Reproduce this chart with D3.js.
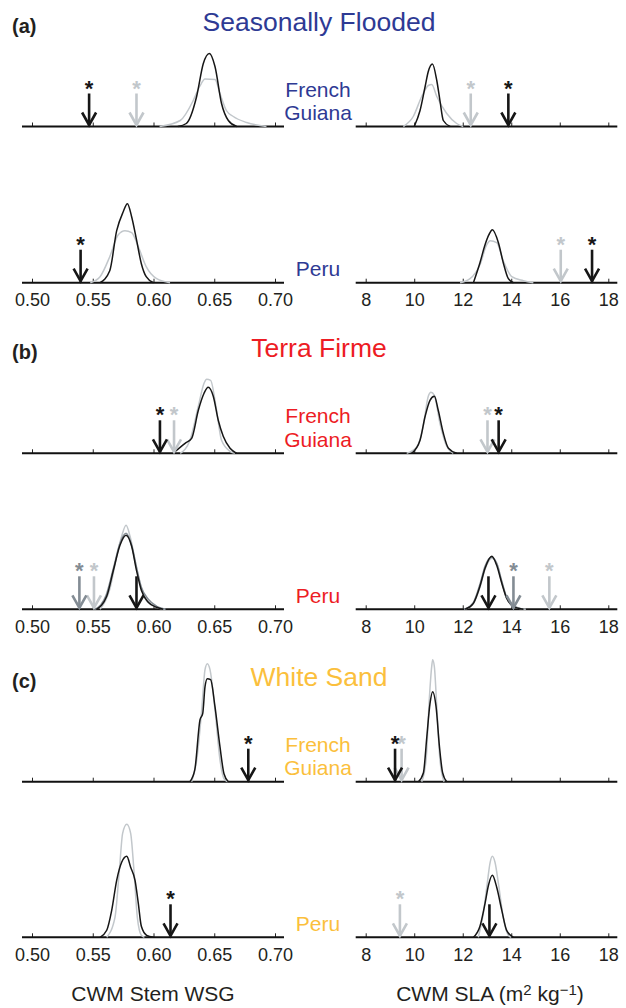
<!DOCTYPE html>
<html>
<head>
<meta charset="utf-8">
<script src="https://cdn.jsdelivr.net/npm/d3@7"></script>
<style>
  body { margin: 0; background: #fff; }
</style>
</head>
<body>
<div id="wrapper"></div>
<script>
// ---- data ----
const habitatNames = ["Seasonally Flooded", "Terra Firme", "White Sand"]
const habitatLetters = ["(a)", "(b)", "(c)"]
const siteNames = [["French", "Guiana"], ["Peru"]]
const wsgTicks = [0.50, 0.55, 0.60, 0.65, 0.70]
const slaTicks = [8, 10, 12, 14, 16, 18]

// density curves: [trait value, relative density]; k = black, g = light grey, d = dark grey
// (a) Seasonally Flooded
const sfFgWsgK = [[0.620,0],[0.627,3],[0.6355,30],[0.641,63],[0.646,73],[0.6506,60],[0.656,23],[0.6616,6],[0.6685,0]]
const sfFgWsgG = [[0.605,0],[0.622,6],[0.6327,26],[0.638,40],[0.6424,47.5],[0.6506,47],[0.6547,33],[0.660,16],[0.6657,10],[0.6767,4],[0.693,0]]
const sfFgSlaK = [[10.0,0],[10.24,16],[10.45,40],[10.58,55],[10.75,62.5],[10.93,46],[11.06,26],[11.2,6],[11.48,0]]
const sfFgSlaG = [[9.55,0],[9.96,10],[10.31,30],[10.58,41],[10.72,42],[10.93,30],[11.34,13],[11.75,3],[12.02,0]]
const sfPeWsgK = [[0.556,0],[0.564,12],[0.5697,52],[0.5751,71],[0.5785,79],[0.582,66],[0.586,43],[0.590,19],[0.594,6],[0.600,0]]
const sfPeWsgG = [[0.548,0],[0.556,6],[0.564,26],[0.571,48],[0.5765,52],[0.582,50],[0.5875,36],[0.594,16],[0.6026,4],[0.6136,0]]
const sfPeSlaK = [[12.44,0],[12.71,20],[12.92,38],[13.08,48],[13.22,53],[13.47,40],[13.67,20],[13.88,4],[14.09,0]]
const sfPeSlaG = [[11.89,0],[12.30,4],[12.71,18],[12.99,38],[13.13,42],[13.40,40],[13.67,22],[14.02,6],[14.5,2],[14.91,0]]
// (b) Terra Firme
const tfFgWsgK = [[0.616,0],[0.626,10],[0.6314,15],[0.6369,43],[0.6416,60],[0.645,66],[0.6492,57],[0.6533,33],[0.6574,17],[0.663,5],[0.6685,0]]
const tfFgWsgG = [[0.622,0],[0.630,13],[0.6369,47],[0.6416,70],[0.6438,74],[0.647,73],[0.6514,47],[0.656,13],[0.663,2],[0.667,0]]
const tfFgSlaK = [[9.90,0],[10.24,13],[10.45,37],[10.65,53],[10.83,57],[10.99,43],[11.2,20],[11.41,5],[11.75,0]]
const tfFgSlaG = [[9.69,0],[10.10,6],[10.37,27],[10.58,57],[10.69,61],[10.83,58],[11.06,30],[11.34,7],[11.61,0]]
const tfPeWsgK = [[0.553,0],[0.5615,13],[0.567,39],[0.5724,64],[0.5774,74],[0.582,63],[0.586,39],[0.590,19],[0.5957,7],[0.6026,2],[0.608,0]]
const tfPeWsgD = [[0.552,0],[0.561,14],[0.567,41],[0.5724,66],[0.5774,76],[0.582,64],[0.586,42],[0.590,22],[0.5957,10],[0.6026,3],[0.61,0]]
const tfPeWsgG = [[0.556,0],[0.564,20],[0.5697,53],[0.5738,73],[0.5774,84],[0.5807,73],[0.5848,49],[0.5889,26],[0.594,9],[0.6026,2],[0.6095,0]]
const tfPeSlaK = [[12.10,0],[12.44,6],[12.71,23],[12.92,41],[13.20,53],[13.40,44],[13.61,26],[13.81,11],[14.09,3],[14.5,0]]
const tfPeSlaD = [[12.05,0],[12.44,7],[12.71,25],[12.92,43],[13.18,52],[13.40,46],[13.61,28],[13.81,12],[14.09,4],[14.5,0]]
const tfPeSlaG = [[12.1,0],[12.44,6],[12.71,22],[12.92,40],[13.20,51],[13.42,45],[13.61,27],[13.81,11],[14.09,3],[14.6,0]]
// (c) White Sand
const wsFgWsgK = [[0.630,0],[0.634,12],[0.6383,62],[0.6405,68],[0.6424,95],[0.6443,103],[0.647,102],[0.6506,75],[0.6547,35],[0.658,8],[0.6616,0]]
const wsFgWsgG = [[0.6314,0],[0.6356,22],[0.6397,72],[0.6424,112],[0.6443,118],[0.6465,112],[0.6506,72],[0.6547,22],[0.658,3],[0.661,0]]
const wsFgSlaK = [[10.17,0],[10.38,9],[10.52,45],[10.65,78],[10.76,90],[10.90,75],[11.04,35],[11.17,9],[11.34,0]]
const wsFgSlaG = [[10.31,0],[10.49,22],[10.62,82],[10.72,115],[10.76,122],[10.83,115],[10.93,75],[11.06,22],[11.23,0]]
const wsPeWsgK = [[0.556,0],[0.5615,7],[0.5656,27],[0.5697,57],[0.5738,75],[0.578,81],[0.5812,70],[0.5848,57],[0.5875,34],[0.590,11],[0.5944,2],[0.600,0]]
const wsPeWsgG = [[0.5615,0],[0.5683,20],[0.5719,67],[0.5746,104],[0.578,113],[0.5812,104],[0.5839,67],[0.5867,20],[0.590,2],[0.5925,0]]
const wsPeSlaK = [[12.44,0],[12.71,11],[12.92,34],[13.06,52],[13.22,62],[13.40,50],[13.61,27],[13.81,7],[14.09,0]]
const wsPeSlaG = [[12.64,0],[12.85,24],[13.01,54],[13.13,75],[13.22,81],[13.33,75],[13.47,54],[13.67,20],[13.88,2],[14.0,0]]

// observed values (arrows): series, value, significant (asterisk)
const sfFgWsgObs = [{s:"k", v:0.547, sig:true}, {s:"g", v:0.586, sig:true}]
const sfFgSlaObs = [{s:"g", v:12.33, sig:true}, {s:"k", v:13.88, sig:true}]
const sfPeWsgObs = [{s:"k", v:0.540, sig:true}]
const sfPeSlaObs = [{s:"g", v:16.04, sig:true}, {s:"k", v:17.33, sig:true}]
const tfFgWsgObs = [{s:"k", v:0.6053, sig:true}, {s:"g", v:0.6169, sig:true}]
const tfFgSlaObs = [{s:"g", v:13.02, sig:true}, {s:"k", v:13.48, sig:true}]
const tfPeWsgObs = [{s:"d", v:0.539, sig:true}, {s:"g", v:0.551, sig:true}, {s:"k", v:0.586, sig:false}]
const tfPeSlaObs = [{s:"k", v:13.06, sig:false}, {s:"d", v:14.09, sig:true}, {s:"g", v:15.57, sig:true}]
const wsFgWsgObs = [{s:"k", v:0.678, sig:true}]
const wsFgSlaObs = [{s:"g", v:9.48, sig:true}, {s:"k", v:9.21, sig:true}]
const wsPeWsgObs = [{s:"k", v:0.614, sig:true}]
const wsPeSlaObs = [{s:"g", v:9.41, sig:true}, {s:"k", v:13.10, sig:false}]

const panels = [
  {h:0, site:0, trait:"wsg", curves:{g:sfFgWsgG, k:sfFgWsgK}, obs:sfFgWsgObs},
  {h:0, site:0, trait:"sla", curves:{g:sfFgSlaG, k:sfFgSlaK}, obs:sfFgSlaObs},
  {h:0, site:1, trait:"wsg", curves:{g:sfPeWsgG, k:sfPeWsgK}, obs:sfPeWsgObs},
  {h:0, site:1, trait:"sla", curves:{g:sfPeSlaG, k:sfPeSlaK}, obs:sfPeSlaObs},
  {h:1, site:0, trait:"wsg", curves:{g:tfFgWsgG, k:tfFgWsgK}, obs:tfFgWsgObs},
  {h:1, site:0, trait:"sla", curves:{g:tfFgSlaG, k:tfFgSlaK}, obs:tfFgSlaObs},
  {h:1, site:1, trait:"wsg", curves:{g:tfPeWsgG, d:tfPeWsgD, k:tfPeWsgK}, obs:tfPeWsgObs},
  {h:1, site:1, trait:"sla", curves:{g:tfPeSlaG, d:tfPeSlaD, k:tfPeSlaK}, obs:tfPeSlaObs},
  {h:2, site:0, trait:"wsg", curves:{g:wsFgWsgG, k:wsFgWsgK}, obs:wsFgWsgObs},
  {h:2, site:0, trait:"sla", curves:{g:wsFgSlaG, k:wsFgSlaK}, obs:wsFgSlaObs},
  {h:2, site:1, trait:"wsg", curves:{g:wsPeWsgG, k:wsPeWsgK}, obs:wsPeWsgObs},
  {h:2, site:1, trait:"sla", curves:{g:wsPeSlaG, k:wsPeSlaK}, obs:wsPeSlaObs},
]

// ---- layout ----
const FONT = "'Liberation Sans', Arial, Helvetica, sans-serif"
const width = 626
const height = 1008
const rowBase = [126.5, 282.7, 453.3, 609.3, 781.7, 937.3]
const labelX = 318
const habitatColor = d3.scaleOrdinal().domain([0, 1, 2]).range(["#2e3a94", "#ed1c24", "#fbbf3c"])
const seriesColor = d3.scaleOrdinal().domain(["k", "g", "d"]).range(["#161616", "#c2c7cb", "#838c94"])

const xScales = {
  wsg: d3.scaleLinear().domain([0.5, 0.7]).range([32, 275]),
  sla: d3.scaleLinear().domain([8, 18]).range([365.7, 608.3]),
}
const ticks = { wsg: wsgTicks, sla: slaTicks }
const formats = { wsg: d3.format(".2f"), sla: d3.format("d") }

// density -> pixels above the baseline (shared by all panels)
const yScale = d3.scaleLinear().domain([0, 120]).range([0, -120])

const svg = d3.select("#wrapper")
  .append("svg")
    .attr("width", width)
    .attr("height", height)
    .style("font-family", FONT)

// habitat titles, letters, site labels
habitatNames.forEach((name, h) => {
  const base = rowBase[h * 2]
  svg.append("text")
      .attr("x", labelX + 1)
      .attr("y", base - 96)
      .attr("text-anchor", "middle")
      .attr("fill", habitatColor(h))
      .style("font-size", "26.5px")
      .text(name)

  svg.append("text")
      .attr("x", 12)
      .attr("y", base - 94)
      .attr("fill", "#231f20")
      .style("font-size", "20px")
      .style("font-weight", "bold")
      .text(habitatLetters[h])

  siteNames.forEach((lines, s) => {
    const b = rowBase[h * 2 + s]
    const t = svg.append("text")
        .attr("text-anchor", "middle")
        .attr("fill", habitatColor(h))
        .style("font-size", "21px")
    lines.forEach((ln, i) => {
      t.append("tspan")
          .attr("x", labelX)
          .attr("y", lines.length === 2 ? b - 30 + i * 23.5 : b - 6.5)
          .text(ln)
    })
  })
})

const line = (x) => d3.line()
  .x(d => x(d[0]))
  .y(d => yScale(d[1]))
  .curve(d3.curveMonotoneX)

const arrowLen = 33
const drawOrder = ["g", "d", "k"]

panels.forEach(p => {
  const x = xScales[p.trait]
  const base = rowBase[p.h * 2 + p.site]
  const g = svg.append("g").attr("transform", `translate(0, ${base})`)

  // axis with small upward ticks
  const axisGen = d3.axisBottom(x)
    .tickValues(ticks[p.trait])
    .tickSizeInner(-4)
    .tickSizeOuter(0)
    .tickPadding(10.5)
    .tickFormat(p.site === 1 ? formats[p.trait] : () => "")
  const ax = g.append("g").call(axisGen)
  ax.select(".domain").remove()
  ax.selectAll(".tick line").attr("stroke", "#222").attr("stroke-width", 1)
  ax.selectAll(".tick text")
      .attr("fill", "#231f20")
      .style("font-size", "18px")
      .style("font-family", FONT)

  g.append("line")
      .attr("x1", x.range()[0] - 10)
      .attr("x2", x.range()[1] + 9)
      .attr("stroke", "#111")
      .attr("stroke-width", 2)

  // density curves
  drawOrder.filter(k => p.curves[k]).forEach(k => {
    g.append("path")
        .datum(p.curves[k])
        .attr("d", line(x))
        .attr("fill", "none")
        .attr("stroke", seriesColor(k))
        .attr("stroke-width", 1.5)
  })

  // observed value arrows
  const obs = p.obs.slice().sort((a, b) => drawOrder.indexOf(a.s) - drawOrder.indexOf(b.s))
  obs.forEach(o => {
    const ox = x(o.v)
    const c = seriesColor(o.s)
    g.append("line")
        .attr("x1", ox).attr("x2", ox)
        .attr("y1", -arrowLen).attr("y2", -1)
        .attr("stroke", c)
        .attr("stroke-width", 2.6)
    g.append("path")
        .attr("d", `M${ox - 7},-14L${ox},-1.5L${ox + 7},-14`)
        .attr("fill", "none")
        .attr("stroke", c)
        .attr("stroke-width", 2.6)
    if (o.sig) {
      g.append("text")
          .attr("x", ox)
          .attr("y", -arrowLen + 2)
          .attr("text-anchor", "middle")
          .attr("fill", c)
          .style("font-size", "22px")
          .style("font-weight", "bold")
          .text("*")
    }
  })
})

// axis titles
svg.append("text")
    .attr("x", 153)
    .attr("y", 1001)
    .attr("text-anchor", "middle")
    .attr("fill", "#231f20")
    .style("font-size", "21px")
    .text("CWM Stem WSG")

const slaTitle = svg.append("text")
    .attr("x", 490)
    .attr("y", 1001)
    .attr("text-anchor", "middle")
    .attr("fill", "#231f20")
    .style("font-size", "21px")
slaTitle.append("tspan").text("CWM SLA (m")
slaTitle.append("tspan").attr("dy", -6).style("font-size", "15px").text("2")
slaTitle.append("tspan").attr("dy", 6).text(" kg")
slaTitle.append("tspan").attr("dy", -6).style("font-size", "15px").text("\u22121")
slaTitle.append("tspan").attr("dy", 6).text(")")
</script>
</body>
</html>
